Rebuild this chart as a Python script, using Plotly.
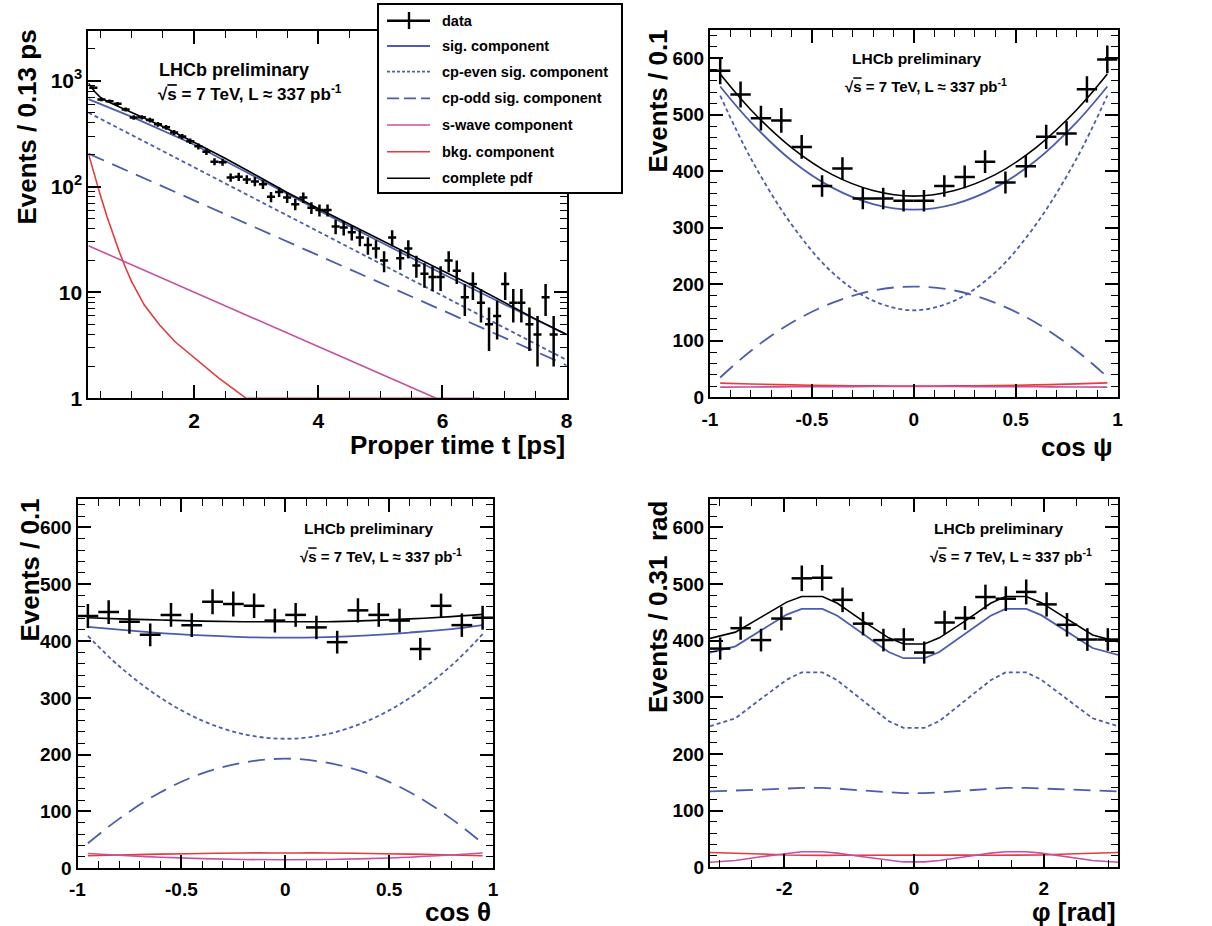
import plotly.graph_objects as go

# ---------------------------------------------------------------- data ----
# Proper-time distribution (log scale), bin width 0.13 ps
time_centres = [0.38, 0.51, 0.64, 0.77, 0.90, 1.03, 1.16, 1.29, 1.42, 1.55,
                1.68, 1.81, 1.94, 2.07, 2.20, 2.33, 2.46, 2.59, 2.72, 2.85,
                2.98, 3.11, 3.24, 3.37, 3.50, 3.63, 3.76, 3.89, 4.02, 4.15,
                4.28, 4.41, 4.54, 4.67, 4.80, 4.93, 5.06, 5.19, 5.32, 5.45,
                5.58, 5.71, 5.84, 5.97, 6.10, 6.23, 6.36, 6.49, 6.62, 6.75,
                6.88, 7.01, 7.14, 7.27, 7.40, 7.53, 7.66, 7.79]
time_counts = [860, 665, 640, 605, 535, 450, 452, 425, 388, 363,
               325, 297, 268, 240, 214, 172, 170, 122, 124, 117,
               112, 105, 80, 89, 79, 68, 79, 63, 60, 60,
               42, 41, 37, 33, 28, 26, 20, 33, 21, 26,
               18, 15, 14, 14, 20, 16, 9, 12, 8, 5,
               6, 12, 8, 8, 5, 4, 9, 4]
time_errors = [29, 26, 25, 25, 23, 21, 21, 21, 20, 19,
               18, 17, 16, 15.5, 15, 13, 13, 11, 11, 11,
               11, 10, 9, 9.4, 9, 8.2, 9, 8, 7.7, 7.7,
               6.5, 6.4, 6.1, 5.7, 5.3, 5.1, 4.5, 5.7, 4.6, 5.1,
               4.2, 3.9, 3.7, 3.7, 4.5, 4, 3, 3.5, 2.8, 2.2,
               2.4, 3.5, 2.8, 2.8, 2.2, 2, 3, 2]

t_pdf = [0.3, 0.4, 0.5, 0.6, 0.8, 1.0, 1.5, 2.0, 2.5, 3.0, 3.5, 4.0, 4.5,
         5.0, 5.5, 6.0, 6.5, 7.0, 7.5, 8.0]
t_pdf_total = [950, 790, 690, 640, 565, 500, 370, 262, 185, 128, 88, 62, 44,
               31.5, 22.5, 16, 11.5, 8, 5.6, 4.0]
t_sig_x = [0.3, 1.0, 2.0, 3.0, 4.0, 5.0, 6.0, 7.0, 8.0]
t_sig = [670, 455, 250, 122, 60, 30, 15, 7.7, 4.0]
t_even_x = [0.3, 8.0]
t_even = [500, 2.3]
t_odd_x = [0.3, 8.0]
t_odd = [205, 2.05]
t_swave_x = [0.3, 5.9, 6.6]
t_swave = [27.6, 1.0, 1.0]
t_bkg_x = [0.3, 0.4, 0.5, 0.6, 0.7, 0.8, 0.9, 1.0, 1.2, 1.45, 1.7, 2.04,
           2.4, 2.84, 5.9]
t_bkg = [205, 125, 80, 52, 35, 24, 17, 12.5, 7.6, 4.9, 3.4, 2.3,
         1.55, 1.0, 1.0]

# cos(psi) and cos(theta) distributions, bin width 0.1
cos_centres = [-0.95, -0.85, -0.75, -0.65, -0.55, -0.45, -0.35, -0.25, -0.15,
               -0.05, 0.05, 0.15, 0.25, 0.35, 0.45, 0.55, 0.65, 0.75, 0.85,
               0.95]
psi_counts = [578, 536, 494, 490, 443, 374, 405, 352, 352,
              348, 348, 374, 390, 417, 380, 409, 461, 467, 545, 598]
psi_errors = [24, 23, 22, 22, 21, 19, 20, 19, 19,
              19, 19, 19, 20, 20, 19.5, 20, 21.5, 21.6, 23.3, 24.5]
theta_counts = [444, 451, 434, 411, 446, 428, 469, 465, 462,
                436, 446, 424, 398, 454, 446, 436, 386, 462, 428, 441]
theta_errors = [21, 21, 21, 20, 21, 21, 22, 22, 21.5,
                21, 21, 20.6, 20, 21.3, 21, 21, 19.6, 21.5, 20.7, 21]

cos_grid = [-0.95, -0.8, -0.6, -0.4, -0.2, 0.0, 0.2, 0.4, 0.6, 0.8, 0.95]
psi_total = [572, 509, 442, 394, 366, 356, 366, 394, 442, 509, 572]
psi_sig = [550, 487, 419, 371, 342, 332, 342, 371, 419, 487, 550]
psi_even = [534, 423, 306, 221, 171, 154, 171, 221, 306, 423, 534]
psi_odd = [35, 82, 132, 167, 189, 196, 189, 167, 132, 82, 36]
psi_swave = [18, 18.3, 18.6, 18.8, 19, 19, 19, 18.8, 18.6, 18.3, 18]
psi_bkg = [25, 23.5, 22, 20.8, 20.2, 20, 20.2, 20.8, 22, 23.7, 25.5]

theta_total = [441, 439, 437, 435, 434, 434, 434, 436, 439, 443, 447]
theta_sig = [425, 420, 414, 410, 407, 406, 407, 410, 415, 421, 428]
theta_even = [409, 356, 300, 260, 236, 228, 236, 260, 300, 357, 412]
theta_odd = [44, 87, 134, 167, 186, 193, 186, 167, 134, 87, 44]
theta_swave = [26, 23, 19.5, 17, 15.5, 15, 15.5, 17, 19.5, 23.5, 27]
theta_bkg = [22, 23.5, 25, 26, 27, 27, 27, 26, 25, 23.5, 22]

# phi distribution, 20 bins over [-pi, pi]
phi_centres = [-2.985, -2.670, -2.356, -2.042, -1.728, -1.414, -1.100, -0.785,
               -0.471, -0.157, 0.157, 0.471, 0.785, 1.100, 1.414, 1.728,
               2.042, 2.356, 2.670, 2.985]
phi_counts = [386, 422, 401, 439, 510, 511, 472, 430, 401, 402,
              379, 432, 440, 477, 474, 486, 464, 428, 402, 402]
phi_errors = [19.6, 20.5, 20, 21, 22.6, 22.6, 21.7, 20.7, 20, 20,
              19.5, 20.8, 21, 21.8, 21.8, 22, 21.5, 20.7, 20, 20]

phi_grid = [-3.1416, -2.75, -2.36, -1.96, -1.73, -1.41, -1.18, -0.79, -0.39,
            -0.16, 0.16, 0.39, 0.79, 1.18, 1.41, 1.73, 1.96, 2.36, 2.75,
            3.1416]
phi_total = [404, 415, 441, 468, 478, 478, 466, 435, 405, 394,
             394, 405, 435, 466, 478, 478, 467, 438, 410, 398]
phi_sig = [379, 390, 418, 446, 456, 456, 444, 412, 380, 369,
           369, 380, 412, 444, 456, 456, 445, 416, 387, 375]
phi_even = [249, 263, 297, 331, 344, 344, 330, 294, 258, 246,
            246, 258, 294, 330, 344, 344, 331, 297, 263, 249]
phi_odd = [134, 135, 137, 139, 140, 140, 139, 135.5, 132, 131,
           131, 132, 135.5, 139, 140, 140, 139, 137, 135, 134]
phi_swave = [9, 12, 18.5, 25, 27.5, 27.5, 25, 18.5, 12, 9.5,
             9.5, 12, 18.5, 25, 27.5, 27.5, 25, 18.5, 12, 9]
phi_bkg = [26, 25.3, 23.5, 21.7, 21, 21, 21.2, 21.5, 21.9, 22,
           22, 21.9, 21.5, 21.2, 21, 21, 21.7, 23.5, 25.3, 26]

# tick labels
cos_ticks = [-1, -0.5, 0, 0.5, 1]
cos_tick_text = ["-1", "-0.5", "0", "0.5", "1"]
phi_ticks = [-2, 0, 2]
phi_tick_text = ["-2", "0", "2"]
log_ticks = [1, 10, 100, 1000]
log_tick_text = ["1", "10", "10<sup>2</sup>", "10<sup>3</sup>"]

legend_labels = ["data", "sig. component", "cp-even sig. component",
                 "cp-odd sig. component", "s-wave component",
                 "bkg. component", "complete pdf"]

# --------------------------------------------------------------- style ----
W, H = 1212, 926
FONT = "Liberation Sans, Arial, Helvetica, sans-serif"
BLUE = "#4C5CB0"
MAGENTA = "#C4529F"
RED = "#E53B3B"
BLACK = "#000000"

LINE_STYLES = {
    "sig": dict(color=BLUE, width=1.8),
    "even": dict(color=BLUE, width=1.8, dash="4px,3px"),
    "odd": dict(color=BLUE, width=1.8, dash="17px,9px"),
    "swave": dict(color=MAGENTA, width=1.6),
    "bkg": dict(color=RED, width=1.6),
    "total": dict(color=BLACK, width=1.6),
}


def fx(x):
    return x / W


def fy(y):
    return 1 - y / H


fig = go.Figure()


def add_curves(xa, ya, series, shape):
    for key, xs, ys in series:
        fig.add_trace(go.Scatter(
            x=xs, y=ys, mode="lines", line=dict(LINE_STYLES[key], shape=shape),
            xaxis=xa, yaxis=ya, showlegend=False, hoverinfo="skip"))


def add_data(xa, ya, xs, ys, errs, half_width):
    fig.add_trace(go.Scatter(
        x=xs, y=ys, mode="markers", marker=dict(size=1, color=BLACK),
        error_y=dict(type="data", array=errs, color=BLACK, thickness=2.5,
                     width=0),
        error_x=dict(type="constant", value=half_width, color=BLACK,
                     thickness=2.5, width=0),
        xaxis=xa, yaxis=ya, showlegend=False))


# proper time
add_curves("x", "y", [("bkg", t_bkg_x, t_bkg), ("swave", t_swave_x, t_swave),
                      ("odd", t_odd_x, t_odd), ("even", t_even_x, t_even),
                      ("sig", t_sig_x, t_sig), ("total", t_pdf, t_pdf_total)],
           "linear")
add_data("x", "y", time_centres, time_counts, time_errors, 0.065)

# cos psi
add_curves("x2", "y2", [("bkg", cos_grid, psi_bkg), ("swave", cos_grid, psi_swave),
                        ("odd", cos_grid, psi_odd), ("even", cos_grid, psi_even),
                        ("sig", cos_grid, psi_sig), ("total", cos_grid, psi_total)],
           "spline")
add_data("x2", "y2", cos_centres, psi_counts, psi_errors, 0.05)

# cos theta
add_curves("x3", "y3", [("bkg", cos_grid, theta_bkg), ("swave", cos_grid, theta_swave),
                        ("odd", cos_grid, theta_odd), ("even", cos_grid, theta_even),
                        ("sig", cos_grid, theta_sig), ("total", cos_grid, theta_total)],
           "spline")
add_data("x3", "y3", cos_centres, theta_counts, theta_errors, 0.05)

# phi
add_curves("x4", "y4", [("bkg", phi_grid, phi_bkg), ("swave", phi_grid, phi_swave),
                        ("odd", phi_grid, phi_odd), ("even", phi_grid, phi_even),
                        ("sig", phi_grid, phi_sig), ("total", phi_grid, phi_total)],
           "linear")
add_data("x4", "y4", phi_centres, phi_counts, phi_errors, 0.157)

# ---------------------------------------------------------------- axes ----
def tick_font(size):
    return dict(family=FONT, size=size, color=BLACK, weight="bold")


def axis(domain, rng, dtick, minor_dtick, size=19, **extra):
    base = dict(domain=domain, range=rng, showgrid=False, zeroline=False,
                showline=True, linecolor=BLACK, linewidth=2, mirror="ticks",
                ticks="inside", ticklen=13, tickwidth=1.5, tickcolor=BLACK,
                tickfont=tick_font(size), dtick=dtick, tick0=0,
                automargin=False,
                minor=dict(ticks="inside", ticklen=7, tickwidth=1.2,
                           tickcolor=BLACK, dtick=minor_dtick, tick0=0,
                           showgrid=False))
    base.update(extra)
    return base


pdomx = {
    "tl": [fx(88.4), fx(566.7)], "tr": [fx(710), fx(1117.5)],
    "bl": [fx(77.5), fx(493)], "br": [fx(710), fx(1118)],
}
pdomy = {
    "tl": [fy(398.3), fy(31)], "tr": [fy(397.3), fy(30)],
    "bl": [fy(868.3), fy(499)], "br": [fy(867.3), fy(499)],
}

log_minor = [m * 10 ** e for e in range(0, 4) for m in range(2, 10)]

fig.update_layout(
    xaxis=axis(pdomx["tl"], [0.3, 8], 2, 0.5, size=21, anchor="y",
               ticklabelstandoff=2),
    yaxis=dict(axis(pdomy["tl"], [0, 3.47], None, None, size=21, anchor="x"),
               type="log", tickvals=log_ticks, ticktext=log_tick_text,
               minor=dict(ticks="inside", ticklen=7, tickwidth=1.2,
                          tickcolor=BLACK, tickvals=log_minor,
                          showgrid=False)),
    xaxis2=axis(pdomx["tr"], [-1, 1], 0.5, 0.1, anchor="y2", ticklabelstandoff=4,
                tickvals=cos_ticks, ticktext=cos_tick_text),
    yaxis2=axis(pdomy["tr"], [0, 650], 100, 20, anchor="x2"),
    xaxis3=axis(pdomx["bl"], [-1, 1], 0.5, 0.1, anchor="y3", ticklabelstandoff=3,
                tickvals=cos_ticks, ticktext=cos_tick_text),
    yaxis3=axis(pdomy["bl"], [0, 650], 100, 20, anchor="x3"),
    xaxis4=axis(pdomx["br"], [-3.1416, 3.1416], 2, 0.5, anchor="y4",
                ticklabelstandoff=3, tickvals=phi_ticks, ticktext=phi_tick_text),
    yaxis4=axis(pdomy["br"], [0, 650], 100, 20, anchor="x4"),
)
fig.layout.yaxis.dtick = None

# -------------------------------------------------------- text labels ----
annotations = []


def label(text, x, y, size, xanchor="left", yanchor="middle", angle=0,
          weight="bold"):
    annotations.append(dict(
        text=text, x=fx(x), y=fy(y), xref="paper", yref="paper",
        xanchor=xanchor, yanchor=yanchor, textangle=angle, showarrow=False,
        font=dict(family=FONT, size=size, color=BLACK, weight=weight)))


SQRT_S = "\u221a<span style='text-decoration:overline'>s</span> = 7 TeV, L \u2248 337 pb<sup>-1</sup>"

label("LHCb preliminary", 157, 70, 18)
label(SQRT_S, 156, 93, 17)
label("LHCb preliminary", 850, 59, 15.5)
label(SQRT_S, 843, 85, 15)
label("LHCb preliminary", 302, 528, 15.5)
label(SQRT_S, 298, 555, 15)
label("LHCb preliminary", 932, 528, 15.5)
label(SQRT_S, 928, 555, 15)

label("Proper time t [ps]", 567, 445, 26, xanchor="right")
label("cos \u03c8", 1115, 447, 26, xanchor="right")
label("cos \u03b8", 493, 912, 26, xanchor="right")
label("\u03c6 [rad]", 1118, 912, 26, xanchor="right")

label("Events / 0.13 ps", 27, 28, 26, xanchor="center", yanchor="top", angle=-90)
label("Events / 0.1", 658, 28, 26, xanchor="center", yanchor="top", angle=-90)
label("Events / 0.1", 29, 497, 26, xanchor="center", yanchor="top", angle=-90)
label("Events / 0.31  rad", 658, 499, 26, xanchor="center", yanchor="top", angle=-90)

# ------------------------------------------------------------- legend ----
shapes = [dict(type="rect", xref="paper", yref="paper",
               x0=fx(378), x1=fx(622), y0=fy(193), y1=fy(4),
               line=dict(color=BLACK, width=2), fillcolor="white",
               layer="above")]
row_y = [20.7, 46, 71.7, 98.3, 125, 151.7, 178.3]
legend_lines = [dict(color=BLACK, width=2.4), LINE_STYLES["sig"],
                dict(LINE_STYLES["even"], dash="3px,2px"),
                dict(LINE_STYLES["odd"], dash="12px,5px"),
                LINE_STYLES["swave"], LINE_STYLES["bkg"], LINE_STYLES["total"]]
for ry, style, text in zip(row_y, legend_lines, legend_labels):
    shapes.append(dict(type="line", xref="paper", yref="paper",
                       x0=fx(387), x1=fx(430), y0=fy(ry), y1=fy(ry),
                       line=style, layer="above"))
    label(text, 440, ry, 14.5)
shapes.append(dict(type="line", xref="paper", yref="paper",
                   x0=fx(409), x1=fx(409), y0=fy(29), y1=fy(12),
                   line=dict(color=BLACK, width=2.4), layer="above"))

fig.update_layout(
    width=W, height=H, margin=dict(l=0, r=0, t=0, b=0),
    paper_bgcolor="white", plot_bgcolor="white",
    showlegend=False, annotations=annotations, shapes=shapes,
    font=dict(family=FONT, color=BLACK),
)

fig.write_html("out.html")
